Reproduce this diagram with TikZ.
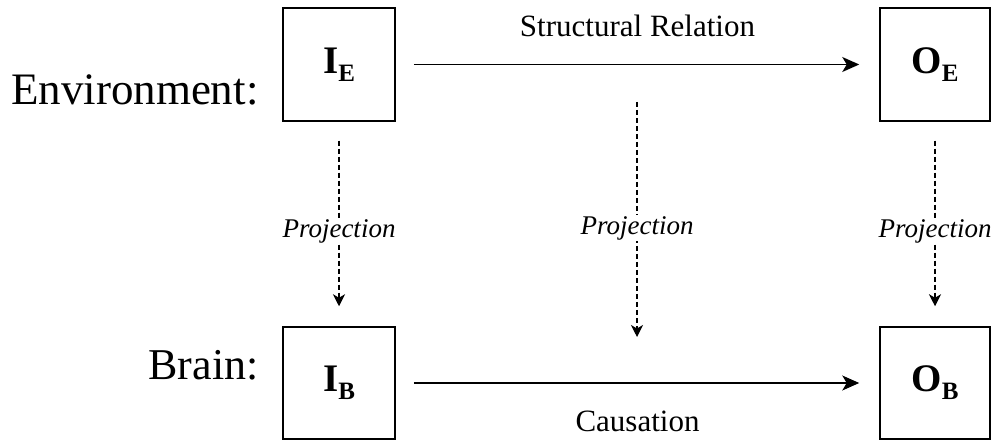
\documentclass[tikz,border=0pt]{standalone}
\usepackage{fontspec}
\setmainfont{Liberation Serif}
\usetikzlibrary{arrows.meta}
\newcommand{\bxlabel}[2]{#1\raisebox{-8pt}{\fontsize{25}{25}\selectfont #2}}
\begin{document}
\begin{tikzpicture}[x=1pt,y=1pt,
  box/.style={draw, line width=1.5pt, minimum width=112pt, minimum height=113pt, inner sep=0pt, font=\fontsize{39}{39}\selectfont\bfseries},
  rel/.style={line width=1.5pt, -{Stealth[length=17pt,width=15pt,inset=4.5pt]}},
  proj/.style={line width=1.2pt, dash pattern=on 5pt off 3pt, -{Stealth[length=12pt,width=12pt,inset=3.5pt]}},
  projlbl/.style={fill=white, inner sep=1.5pt, font=\fontsize{27}{27}\selectfont\itshape},
  rellbl/.style={font=\fontsize{31}{31}\selectfont},
  side/.style={font=\fontsize{45}{45}\selectfont}
]
\useasboundingbox[fill=white] (0,0) rectangle (997,442);
\node[box] (IE) at (339,377.5) {\bxlabel{I}{E}};
\node[box, minimum width=110pt] (OE) at (935,377.5) {\bxlabel{O}{E}};
\node[box, minimum height=112pt] (IB) at (339,59) {\bxlabel{I}{B}};
\node[box, minimum width=110pt, minimum height=112pt] (OB) at (935,59) {\bxlabel{O}{B}};
\node[side, anchor=base east] (env) at (262,337) {Environment:};
\node[side, anchor=base east, font=\fontsize{44}{44}\selectfont] (brain) at (262,62) {Brain:};
\node[rellbl, anchor=base] (sr) at (637.5,405) {Structural Relation};
\node[rellbl, anchor=base] (ca) at (637.5,10) {Causation};
\coordinate (mtop) at (637,340);
\coordinate (mbot) at (637,105);
\draw[rel, shorten <=18pt, shorten >=20pt] (IE) -- (OE);
\draw[rel, shorten <=18pt, shorten >=20pt] (IB) -- (OB);
\draw[proj, shorten <=19pt, shorten >=20pt] (IE) -- node[projlbl, pos=0.534] (p1) {Projection} (IB);
\draw[proj, shorten <=19pt, shorten >=20pt] (OE) -- node[projlbl, pos=0.534] (p3) {Projection} (OB);
\draw[proj] (mtop) -- node[projlbl, pos=0.536] (p2) {Projection} (mbot);
\end{tikzpicture}
\end{document}
